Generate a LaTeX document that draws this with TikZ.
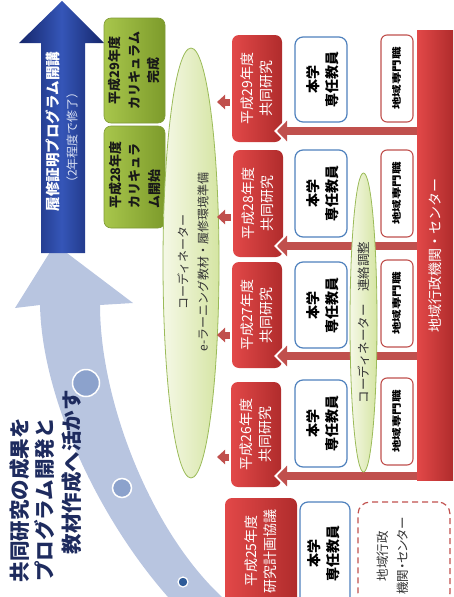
\documentclass[tikz,border=0pt]{standalone}
\usepackage{fontspec}
\setmainfont{Noto Sans CJK JP}
\newfontfamily\jpp{Noto Sans CJK JP}[RawFeature=+palt]
\usetikzlibrary{shapes.geometric,arrows.meta}
\definecolor{navyE}{HTML}{15266A}
\definecolor{navyM}{HTML}{3556B8}
\definecolor{curveBlue}{HTML}{B8C5E0}
\definecolor{circBlue}{HTML}{8CA2CC}
\definecolor{dotBlue}{HTML}{2E5B98}
\definecolor{titleNavy}{HTML}{1E2B5E}
\definecolor{greenL}{HTML}{A8C64C}
\definecolor{greenR}{HTML}{7D9B2B}
\definecolor{greenB}{HTML}{7F9A36}
\definecolor{ellL}{HTML}{F5F8E6}
\definecolor{ellR}{HTML}{D5E5A3}
\definecolor{ellB}{HTML}{9BBB59}
\definecolor{redL}{HTML}{E24848}
\definecolor{redR}{HTML}{B02C2C}
\definecolor{arrRed}{HTML}{C0504D}
\definecolor{boxBlue}{HTML}{4F81BD}
\definecolor{subText}{HTML}{DCE3F5}
\definecolor{grayText}{HTML}{333333}
\begin{document}
\begin{tikzpicture}[x=1pt,y=-1pt,
  redbox/.style={rectangle, rounded corners=7pt, left color=redL, right color=redR, minimum width=50pt, inner sep=0pt},
  bluebox/.style={rectangle, rounded corners=8pt, draw=boxBlue, line width=1.2pt, fill=white, minimum width=52pt, inner sep=0pt},
  smallbox/.style={rectangle, rounded corners=6pt, draw=arrRed, line width=1.1pt, fill=white, minimum width=32pt, inner sep=0pt},
  greenbox/.style={rectangle, rounded corners=7pt, left color=greenL, right color=greenR, draw=greenB, line width=0.6pt, minimum width=61pt, inner sep=0pt},
  rtext/.style={rotate=90, align=center, text=white, font=\fontsize{14}{19}\selectfont},
  btext/.style={rotate=90, align=center, text=black, font=\bfseries\fontsize{14}{19}\selectfont},
  stext/.style={rotate=90, align=center, text=black, font=\bfseries\fontsize{12.5}{13}\selectfont},
  gtext/.style={rotate=90, text=black!90, font=\bfseries\fontsize{13}{19.5}\selectfont},
  etext/.style={rotate=90, align=center, text=grayText, font=\fontsize{12}{20}\selectfont},
  ltext/.style={rotate=90, text=titleNavy, font=\bfseries\fontsize{20.5}{26}\selectfont},
  ell/.style={ellipse, left color=ellL, right color=ellR, draw=ellB, line width=0.8pt, inner sep=0pt},
  bigarr/.style={draw=arrRed, line width=8pt, -{Triangle[width=20pt,length=10pt]}},
  whitearr/.style={draw=white, line width=8pt, -{Triangle[width=27pt,length=14pt]}},
  smallarr/.style={draw=arrRed, line width=7pt, -{Triangle[width=14pt,length=8pt]}},
  circ/.style={circle, fill=circBlue, draw=white, line width=1.5pt, inner sep=0pt}
]
\useasboundingbox (0,0) rectangle (454,597);

% light blue curved arrow
\fill[curveBlue] (55,244) -- (133,303) -- (100,305) .. controls (100,400) and (150,530) .. (222,597)
  -- (168,597) .. controls (100,520) and (42,400) .. (40,305) -- (15,308) -- cycle;
\node[circ, minimum size=27pt] (cA) at (86,383) {};
\node[circ, minimum size=19pt] (cB) at (122,488) {};
\node[circle, fill=dotBlue, draw=white, line width=1.2pt, inner sep=0pt, minimum size=10pt] (cC) at (183,582) {};

% navy up arrow
\shade[left color=navyE, right color=navyE, middle color=navyM]
  (41,253) -- (41,43) -- (19,43) -- (62,1) -- (104,43) -- (85,43) -- (85,253) -- cycle;
\node[rotate=90, text=white, font=\bfseries\fontsize{14.5}{16}\selectfont] (tA) at (53,131.5) {履修証明プログラム開講};
\node[rotate=90, text=subText, font=\fontsize{12}{14}\selectfont] (tB) at (72,137.5) {（2年程度で修了）};

% left text
\node[ltext] (l1) at (20,500) {共同研究の成果を};
\node[ltext] (l2) at (45,500) {プログラム開発と};
\node[ltext] (l3) at (72,472) {教材作成へ活かす};

% green boxes
\node[greenbox, minimum height=105pt] (g29) at (134.5,70.5) {};
\node[gtext, align=center] (g29t) at (g29) {平成29年度\\カリキュラム\\完成};
\node[greenbox, minimum height=102pt] (g28) at (134.5,177) {};
\node[gtext, align=left] (g28t) at (134.5,175) {平成28年度\\カリキュラ\\ム開始};

% coordinator ellipse 1
\node[ell, minimum width=56pt, minimum height=430pt] (e1) at (191,263) {};
\node[etext] (e1t) at (193,262) {コーディネーター\\e-ラーニング教材・履修環境準備};

% big red bar
\node[rectangle, left color=redL, right color=redR, minimum width=36pt, minimum height=450pt, inner sep=0pt] (bar) at (435,255) {};
\node[rtext] (bart) at (bar) {地域行政機関・センター};

% horizontal arrows from bar
\coordinate (h29) at (277,131);
\coordinate (h28) at (277,246);
\coordinate (h27) at (277,356);
\coordinate (h26) at (277,476);
\coordinate (w29) at (274,131);
\coordinate (w28) at (274,246);
\coordinate (w27) at (274,356);
\coordinate (w26) at (274,476);

% red boxes
\node[redbox, minimum height=107pt] (r29) at (257,88.5) {};
\node[redbox, minimum height=107pt] (r28) at (258,203.5) {};
\node[redbox, minimum height=106pt] (r27) at (257,315) {};
\node[redbox, minimum height=105pt] (r26) at (256,434.5) {};
\node[redbox, minimum width=72pt, minimum height=107pt] (r25) at (261,551.5) {};

\foreach \a/\b in {h29/w29,h28/w28,h27/w27,h26/w26}{
  \draw[whitearr] (bar.west |- \a) -- (\b);
  \draw[bigarr] (bar.west |- \a) -- (\a);
}

\node[rtext] (r29t) at (r29) {平成29年度\\共同研究};
\node[rtext] (r28t) at (r28) {平成28年度\\共同研究};
\node[rtext] (r27t) at (r27) {平成27年度\\共同研究};
\node[rtext] (r26t) at (r26) {平成26年度\\共同研究};
\node[rtext] (r25t) at (261,551) {平成25年度\\研究計画協議};

% small left arrows
\coordinate (s1) at (217,102);
\coordinate (s2) at (217,217);
\coordinate (s3) at (217,335);
\coordinate (s4) at (217,457);
\draw[smallarr] ([xshift=-2pt]r29.west |- s1) -- (s1);
\draw[smallarr] ([xshift=-2pt]r28.west |- s2) -- (s2);
\draw[smallarr] ([xshift=-2pt]r27.west |- s3) -- (s3);
\draw[smallarr] ([xshift=-2pt]r26.west |- s4) -- (s4);

% blue boxes
\node[bluebox, minimum height=85pt] (b29) at (321,79.5) {};
\node[bluebox, minimum height=87pt] (b28) at (321,193.5) {};
\node[bluebox, minimum height=86pt] (b27) at (321,305) {};
\node[bluebox, minimum height=87pt] (b26) at (321,423.5) {};
\node[bluebox, minimum width=50pt, minimum height=103pt] (b25) at (325,553.5) {};
\foreach \n in {b29,b28,b27,b26}{
  \node[btext] at ([xshift=1.5pt]\n) {本学\\専任教員};
}
\node[btext] (b25t) at (324,553) {本学\\専任教員};

% small red boxes
\node[smallbox, minimum height=87pt] (s29) at (397,78.5) {};
\node[smallbox, minimum height=87pt] (s28) at (397,193.5) {};
\node[smallbox, minimum height=87pt] (s27) at (397,303.5) {};
\node[smallbox, minimum height=87pt] (s26) at (397,421.5) {};
\foreach \n in {s29,s28,s27,s26}{
  \node[stext] at (\n) {\scalebox{1}[0.75]{地域専門職}};
}

% coordinator ellipse 2
\node[ell, minimum width=27pt, minimum height=299pt] (e2) at (363.5,322.5) {};
\node[etext, font=\fontsize{12.5}{14}\selectfont] (e2t) at (e2) {コーディネーター　連絡調整};

% dashed box
\node[rectangle, rounded corners=12pt, draw=arrRed, line width=1.2pt, dash pattern=on 6pt off 4pt, minimum width=92pt, minimum height=103pt, inner sep=0pt] (d25) at (404,553.5) {};
\node[etext, font=\jpp\fontsize{12.5}{20}\selectfont] (d25t) at (393,556) {地域行政\\機関・センター};
\end{tikzpicture}
\end{document}
